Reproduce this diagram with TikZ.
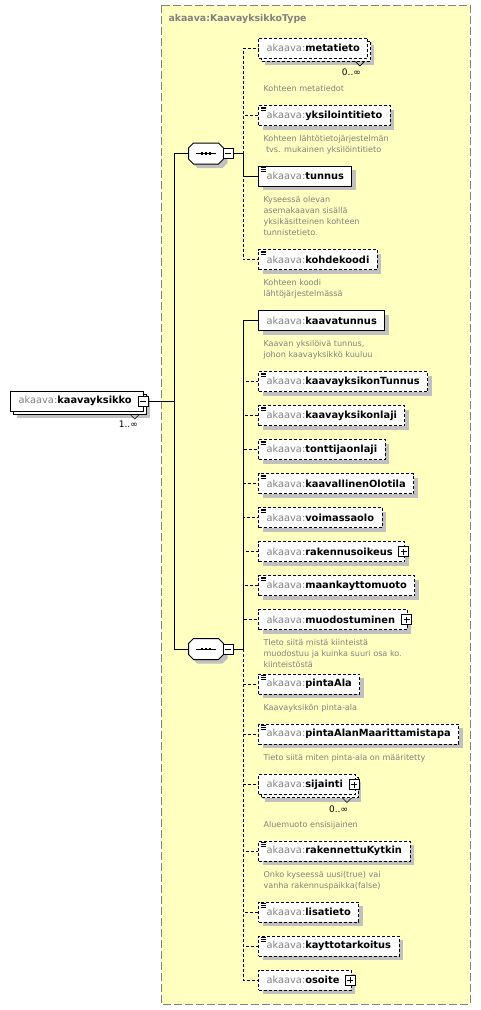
\documentclass[tikz,border=0pt]{standalone}
\usepackage{fontspec}
\setmainfont{DejaVu Sans}
\usepackage{xcolor}
\usepackage{tikz}
\usetikzlibrary{positioning}

\definecolor{pfx}{RGB}{128,128,128}
\definecolor{descgray}{RGB}{128,128,128}
\definecolor{typebg}{RGB}{255,255,192}
\definecolor{shadowgray}{RGB}{192,192,192}
\definecolor{frame}{RGB}{128,128,128}

\begin{document}
\begin{tikzpicture}[x=1pt, y=-1pt, line width=1pt, node distance=13pt]
            \tikzstyle{elem} = [draw, fill=white, anchor=west, minimum height=20pt, inner xsep=8pt, inner ysep=0pt, font=\fontsize{9.85}{12}\selectfont, preaction={fill=shadowgray, draw=none, transform canvas={shift={(4pt,-4pt)}}}]
            \tikzstyle{opt} = [dash pattern=on 3pt off 2pt]
            \tikzstyle{multi} = [preaction={fill=shadowgray, draw=none, transform canvas={shift={(6pt,-7pt)}}}, preaction={draw, fill=white, transform canvas={shift={(3pt,-3pt)}}}]
            \tikzstyle{simple} = [path picture={\foreach \k in {1.6,3.3,5} \draw[solid, line width=0.7pt] ([xshift=2pt,yshift=-\k pt]path picture bounding box.north west) -- ++(5.5pt,0pt);}]
            \tikzstyle{exp} = [execute at end node={\hspace*{4pt}}]
            \tikzstyle{plus} = [draw, solid, fill=white, minimum size=10pt, inner sep=0pt, path picture={\draw ([xshift=2pt]path picture bounding box.west) -- ([xshift=-2pt]path picture bounding box.east); \draw ([yshift=2pt]path picture bounding box.south) -- ([yshift=-2pt]path picture bounding box.north);}]
            \tikzstyle{minus} = [draw, solid, fill=white, minimum size=10pt, inner sep=0pt, path picture={\draw ([xshift=2pt]path picture bounding box.west) -- ([xshift=-2pt]path picture bounding box.east);}]
            \tikzstyle{seq} = [minimum width=34pt, minimum height=20pt, inner sep=0pt]
            \tikzstyle{desc} = [font=\fontsize{8.1}{11}\selectfont, text=descgray, align=left, inner sep=0pt]
            \tikzstyle{card} = [font=\fontsize{9}{11}\selectfont, inner sep=0pt]
            \tikzstyle{notch} = [line width=0.6pt]

            \useasboundingbox (0,0) rectangle (481,1010);
            \draw[fill=typebg, draw=frame, dash pattern=on 8pt off 3pt] (161,5) rectangle (470,1004);
            \node[anchor=west, inner sep=0pt, text=pfx, font=\bfseries\fontsize{9.4}{11}\selectfont] (typename) at (168,19) {akaava:KaavayksikkoType};

            % root element
            \node[elem, multi, exp] (root) at (10,401) {{\color{pfx}akaava:}\textbf{kaavayksikko}};
            \node[minus] (root-m) at ([xshift=-1pt]root.east) {};
            \draw[notch] ([xshift=-14pt,yshift=-3pt]root.south east) -- ++(4.5pt,-4.5pt) -- ++(4.5pt,4.5pt);
            \node[card, below left=9pt and 6pt of root.south east] (root-c) {1..∞};

            % sequences
            \node[seq] (seqA) at (206,153.5) {};
            \node[seq] (seqB) at (206,649) {};
            \foreach \s in {seqA, seqB} {
                \fill[shadowgray, transform canvas={shift={(4pt,-4pt)}}] ([xshift=5pt]\s.north west) -- ([xshift=-5pt]\s.north east) -- ([yshift=-5pt]\s.north east) -- ([yshift=5pt]\s.south east) -- ([xshift=-5pt]\s.south east) -- ([xshift=5pt]\s.south west) -- ([yshift=5pt]\s.south west) -- ([yshift=-5pt]\s.north west) -- cycle;
                \draw[fill=white] ([xshift=5pt]\s.north west) -- ([xshift=-5pt]\s.north east) -- ([yshift=-5pt]\s.north east) -- ([yshift=5pt]\s.south east) -- ([xshift=-5pt]\s.south east) -- ([xshift=5pt]\s.south west) -- ([yshift=5pt]\s.south west) -- ([yshift=-5pt]\s.north west) -- cycle;
                \draw ([xshift=-10pt]\s.center) -- ([xshift=10pt]\s.center);
                \foreach \d in {-4,0,4}
                    \fill ([xshift=\d pt]\s.center) +(-1.3pt,-1.3pt) rectangle +(1.3pt,1.3pt);
            }
            \node[minus] (seqA-m) at (228,153.5) {};
            \node[minus] (seqB-m) at (228,649) {};
            \coordinate (trunk) at (174,401);
            \coordinate (busA) at (243,153.5);
            \coordinate (busB) at (243,649);

            % first sequence
            \node[elem, opt, multi] (metatieto) at (258,48) {{\color{pfx}akaava:}\textbf{metatieto}};
            \draw[notch] ([xshift=-13pt,yshift=-3pt]metatieto.south east) -- ++(4.5pt,-4.5pt) -- ++(4.5pt,4.5pt);
            \node[card, below left=10pt and 7pt of metatieto.south east] (metatieto-c) {0..∞};
            \node[desc, below right=26pt and 5pt of metatieto.south west] (metatieto-d) {Kohteen metatiedot};

            \node[elem, opt, simple] (yksilointitieto) at (258,115.5) {{\color{pfx}akaava:}\textbf{yksilointitieto}};
            \node[desc, below right=9pt and 5pt of yksilointitieto.south west] (yksilointitieto-d) {Kohteen lähtötietojärjestelmän\\\hspace*{2.5pt}tvs. mukainen yksilöintitieto};

            \node[elem, simple] (tunnus) at (258,176) {{\color{pfx}akaava:}\textbf{tunnus}};
            \node[desc, below right=9pt and 5pt of tunnus.south west] (tunnus-d) {Kyseessä olevan\\asemakaavan sisällä\\yksikäsitteinen kohteen\\tunnistetieto.};

            \node[elem, opt, simple] (kohdekoodi) at (258,259.5) {{\color{pfx}akaava:}\textbf{kohdekoodi}};
            \node[desc, below right=9pt and 5pt of kohdekoodi.south west] (kohdekoodi-d) {Kohteen koodi\\lähtöjärjestelmässä};

            % second sequence
            \node[elem] (kaavatunnus) at (258,320.5) {{\color{pfx}akaava:}\textbf{kaavatunnus}};
            \node[desc, below right=9pt and 5pt of kaavatunnus.south west] (kaavatunnus-d) {Kaavan yksilöivä tunnus,\\johon kaavayksikkö kuuluu};

            \node[elem, opt, simple] (kaavayksikonTunnus) at (258,381.5) {{\color{pfx}akaava:}\textbf{kaavayksikonTunnus}};
            \node[elem, opt, simple, below right=13pt and 0pt of kaavayksikonTunnus.south west] (kaavayksikonlaji) {{\color{pfx}akaava:}\textbf{kaavayksikonlaji}};
            \node[elem, opt, simple, below right=13pt and 0pt of kaavayksikonlaji.south west] (tonttijaonlaji) {{\color{pfx}akaava:}\textbf{tonttijaonlaji}};
            \node[elem, opt, simple, below right=13pt and 0pt of tonttijaonlaji.south west] (kaavallinenOlotila) {{\color{pfx}akaava:}\textbf{kaavallinenOlotila}};
            \node[elem, opt, simple, below right=13pt and 0pt of kaavallinenOlotila.south west] (voimassaolo) {{\color{pfx}akaava:}\textbf{voimassaolo}};
            \node[elem, opt, exp, below right=13pt and 0pt of voimassaolo.south west] (rakennusoikeus) {{\color{pfx}akaava:}\textbf{rakennusoikeus}};
            \node[plus] (rakennusoikeus-p) at ([xshift=-1.5pt]rakennusoikeus.east) {};
            \node[elem, opt, simple, below right=13pt and 0pt of rakennusoikeus.south west] (maankayttomuoto) {{\color{pfx}akaava:}\textbf{maankayttomuoto}};
            \node[elem, opt, exp, below right=13pt and 0pt of maankayttomuoto.south west] (muodostuminen) {{\color{pfx}akaava:}\textbf{muodostuminen}};
            \node[plus] (muodostuminen-p) at ([xshift=-1pt]muodostuminen.east) {};
            \node[desc, below right=9pt and 5pt of muodostuminen.south west] (muodostuminen-d) {TIeto siitä mistä kiinteistä\\muodostuu ja kuinka suuri osa ko.\\kiinteistöstä};

            \node[elem, opt, simple] (pintaAla) at (258,684) {{\color{pfx}akaava:}\textbf{pintaAla}};
            \node[desc, below right=9pt and 5pt of pintaAla.south west] (pintaAla-d) {Kaavayksikön pinta-ala};

            \node[elem, opt, simple] (pintaAlanMaarittamistapa) at (258,734) {{\color{pfx}akaava:}\textbf{pintaAlanMaarittamistapa}};
            \node[desc, below right=9pt and 5pt of pintaAlanMaarittamistapa.south west] (pintaAlanMaarittamistapa-d) {Tieto siitä miten pinta-ala on määritetty};

            \node[elem, opt, multi, exp] (sijainti) at (258,784.5) {{\color{pfx}akaava:}\textbf{sijainti}};
            \node[plus] (sijainti-p) at ([xshift=-1.5pt]sijainti.east) {};
            \draw[notch] ([xshift=-13pt,yshift=-3pt]sijainti.south east) -- ++(4.5pt,-4.5pt) -- ++(4.5pt,4.5pt);
            \node[card, below left=10pt and 7pt of sijainti.south east] (sijainti-c) {0..∞};
            \node[desc, below right=26pt and 5pt of sijainti.south west] (sijainti-d) {Aluemuoto ensisijainen};

            \node[elem, opt, simple] (rakennettuKytkin) at (258,851) {{\color{pfx}akaava:}\textbf{rakennettuKytkin}};
            \node[desc, below right=9pt and 5pt of rakennettuKytkin.south west] (rakennettuKytkin-d) {Onko kyseessä uusi(true) vai\\vanha rakennuspaikka(false)};

            \node[elem, opt, simple] (lisatieto) at (258,912) {{\color{pfx}akaava:}\textbf{lisatieto}};
            \node[elem, opt, simple, below right=13pt and 0pt of lisatieto.south west] (kayttotarkoitus) {{\color{pfx}akaava:}\textbf{kayttotarkoitus}};
            \node[elem, opt, exp, below right=13pt and 0pt of kayttotarkoitus.south west] (osoite) {{\color{pfx}akaava:}\textbf{osoite}};
            \node[plus] (osoite-p) at ([xshift=-1.5pt]osoite.east) {};

            % connectors
            \draw (root-m.east) -- (trunk);
            \draw (seqA.west) -| (trunk);
            \draw (seqB.west) -| (trunk);
            \draw (seqA-m.east) -- (busA);
            \draw (seqB-m.east) -- (busB);

            \draw[opt] (busA) |- (metatieto.west);
            \draw[opt] (busA) |- (yksilointitieto.west);
            \draw[opt] (busA) |- (kohdekoodi.west);
            \draw (busA) |- (tunnus.west);

            \draw[opt] (busB) |- (kaavayksikonTunnus.west);
            \draw[opt] (busB) |- (kaavayksikonlaji.west);
            \draw[opt] (busB) |- (tonttijaonlaji.west);
            \draw[opt] (busB) |- (kaavallinenOlotila.west);
            \draw[opt] (busB) |- (voimassaolo.west);
            \draw[opt] (busB) |- (rakennusoikeus.west);
            \draw[opt] (busB) |- (maankayttomuoto.west);
            \draw[opt] (busB) |- (muodostuminen.west);
            \draw[opt] (busB) |- (pintaAla.west);
            \draw[opt] (busB) |- (pintaAlanMaarittamistapa.west);
            \draw[opt] (busB) |- (sijainti.west);
            \draw[opt] (busB) |- (rakennettuKytkin.west);
            \draw[opt] (busB) |- (lisatieto.west);
            \draw[opt] (busB) |- (kayttotarkoitus.west);
            \draw[opt] (busB) |- (osoite.west);
            \draw (busB) |- (kaavatunnus.west);
        \end{tikzpicture}
\end{document}
